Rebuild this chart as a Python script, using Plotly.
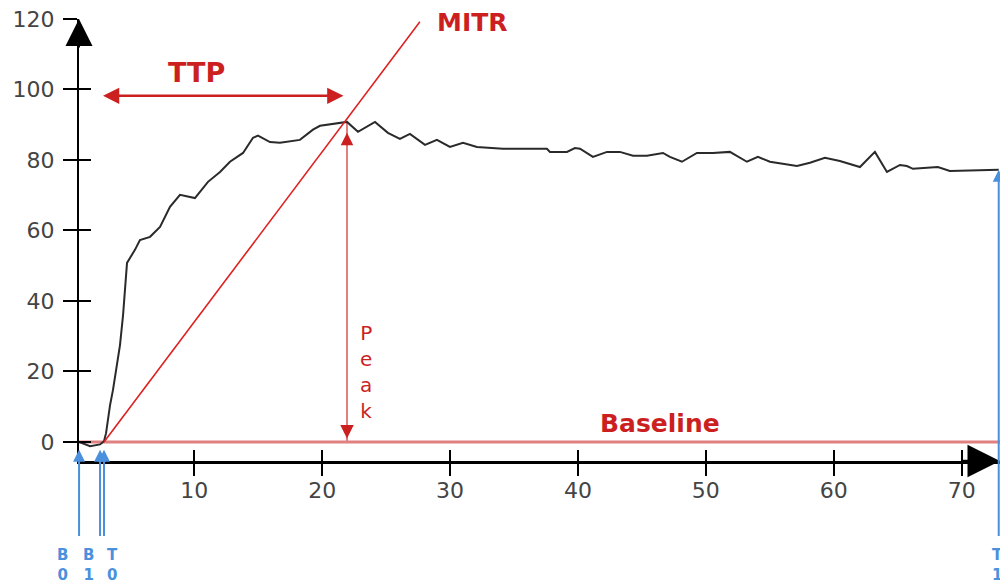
import plotly.graph_objects as go

# ---- data ----
time_s = [0.99, 1.85, 2.63, 2.94, 3.10, 3.41, 3.64, 3.96, 4.19, 4.43, 4.58, 4.74, 4.97, 5.36,
          5.75, 6.54, 7.32, 8.10, 8.88, 10.05, 11.07, 12.01, 12.79, 13.81, 14.59, 14.98,
          15.92, 16.70, 18.26, 19.28, 19.83, 20.84, 21.94, 22.80, 24.13, 25.14, 26.08,
          26.86, 28.04, 28.97, 29.99, 31.01, 32.10, 34.13, 37.57, 37.81, 39.14, 39.76,
          40.16, 41.17, 42.27, 43.28, 44.30, 45.39, 46.65, 47.19, 48.13, 49.30, 50.55,
          51.88, 53.21, 54.07, 55.01, 57.12, 58.14, 59.31, 60.48, 62.05, 63.22, 64.16,
          65.18, 65.72, 66.19, 68.14, 69.08, 72.90]
signal = [0.0, -1.2, -0.7, 0.2, 2.5, 10.4, 14.7, 21.8, 27.5, 36.0, 43.1, 50.8, 52.2, 54.5,
          57.3, 58.2, 61.0, 66.7, 70.1, 69.2, 73.8, 76.6, 79.5, 82.0, 86.3, 86.9,
          85.1, 84.9, 85.7, 88.6, 89.7, 90.3, 90.8, 88.0, 90.8, 87.7, 86.0,
          87.4, 84.3, 85.7, 83.7, 84.9, 83.7, 83.2, 83.2, 82.3, 82.3, 83.4,
          83.2, 80.9, 82.3, 82.3, 81.2, 81.2, 82.0, 80.9, 79.5, 82.0, 82.0,
          82.3, 79.5, 80.9, 79.5, 78.3, 79.2, 80.6, 79.7, 78.0, 82.3, 76.6,
          78.6, 78.3, 77.5, 78.0, 76.9, 77.2]

x_ticks = [10, 20, 30, 40, 50, 60, 70]
y_ticks = [0, 20, 40, 60, 80, 100, 120]

baseline_value = 0
marker_names = ["B0", "B1", "T0", "T1"]
marker_times = [0.99, 2.63, 2.94, 72.90]
marker_labels = ["<b>B</b><br><b>0</b>", "<b>B</b><br><b>1</b>", "<b>T</b><br><b>0</b>",
                 "<b>T</b><br><b>1</b>"]
marker_label_x = [-0.34, 1.69, 3.64, 72.80]

peak_time = 21.94
peak_value = 90.8
mitr_x = [2.94, 27.64]
mitr_y = [0.0, 119.2]
ttp_y = 98.2
ttp_start, ttp_end = 2.86, 21.78

X_RANGE = [0.985, 73.0]
Y_RANGE = [-5.4, 120]

RED = "#cc1f1f"
PINK = "#e08080"
BLUE = "#4a90dc"
TICKFONT = dict(family="DejaVu Sans", size=22, color="#444444")

fig = go.Figure()

# baseline
fig.add_trace(go.Scatter(x=[marker_times[0], X_RANGE[1]], y=[baseline_value, baseline_value],
                         mode="lines", line=dict(color=PINK, width=3), hoverinfo="skip",
                         showlegend=False))
# peak vertical line
fig.add_trace(go.Scatter(x=[peak_time, peak_time], y=[baseline_value, peak_value],
                         mode="lines", line=dict(color=PINK, width=2), hoverinfo="skip",
                         showlegend=False))
# signal curve
fig.add_trace(go.Scatter(x=time_s, y=signal, mode="lines",
                         line=dict(color="#2a2a2a", width=2), showlegend=False))
# MITR line
fig.add_trace(go.Scatter(x=mitr_x, y=mitr_y, mode="lines",
                         line=dict(color="#dd2020", width=1.6), showlegend=False))
# invisible trace for overlay axes (cross ticks)
fig.add_trace(go.Scatter(x=[None], y=[None], xaxis="x2", yaxis="y2", showlegend=False,
                         hoverinfo="skip"))

ann = []
# axis arrowheads
ann.append(dict(x=X_RANGE[0], y=Y_RANGE[1], xref="x", yref="y", ax=0, ay=30, text="",
                showarrow=True, arrowhead=2, arrowsize=2.7, arrowwidth=2, arrowcolor="black"))
ann.append(dict(x=X_RANGE[1], y=Y_RANGE[0], xref="x", yref="y", ax=-40, ay=0, text="",
                showarrow=True, arrowhead=2, arrowsize=2.6, arrowwidth=2.5, arrowcolor="black"))

# TTP double arrow
ann.append(dict(x=ttp_start, y=ttp_y, ax=ttp_end, ay=ttp_y, xref="x", yref="y",
                axref="x", ayref="y", text="", showarrow=True, arrowhead=2, startarrowhead=2,
                arrowside="end+start", arrowsize=1.3, startarrowsize=1.3, arrowwidth=2.5,
                arrowcolor=RED))
ann.append(dict(x=10.2, y=104.8, xref="x", yref="y", text="<b>TTP</b>", showarrow=False,
                font=dict(family="DejaVu Sans", size=27, color=RED)))
ann.append(dict(x=31.7, y=119.0, xref="x", yref="y", text="<b>MITR</b>", showarrow=False,
                font=dict(family="DejaVu Sans", size=25, color=RED)))
ann.append(dict(x=46.4, y=5.3, xref="x", yref="y", text="<b>Baseline</b>", showarrow=False,
                font=dict(family="DejaVu Sans", size=25, color=RED)))
ann.append(dict(x=23.4, y=19.8, xref="x", yref="y", text="P<br>e<br>a<br>k", showarrow=False,
                font=dict(family="DejaVu Sans", size=20, color=RED)))
# peak arrowheads
ann.append(dict(x=peak_time, y=peak_value - 3.1, xref="x", yref="y", ax=0, ay=14, text="",
                showarrow=True, arrowhead=2, arrowsize=1.25, arrowwidth=2, arrowcolor=RED))
ann.append(dict(x=peak_time, y=baseline_value + 1.0, xref="x", yref="y", ax=0, ay=-14, text="",
                showarrow=True, arrowhead=2, arrowsize=1.35, arrowwidth=2, arrowcolor=RED))

# blue time markers
span = X_RANGE[1] - X_RANGE[0]
for name, t, lab, lx in zip(marker_names, marker_times, marker_labels, marker_label_x):
    head_y = signal[-1] if name == "T1" else -2.2
    ann.append(dict(x=t, y=head_y, xref="x", yref="y", axref="x", ayref="y", ax=t, ay=-27.1,
                    text="", showarrow=True, arrowhead=2, arrowsize=1.2, arrowwidth=2,
                    arrowcolor=BLUE))
    ann.append(dict(x=(lx - X_RANGE[0]) / span, y=-0.236, xref="paper", yref="paper", text=lab,
                    showarrow=False, xanchor="center", yanchor="middle",
                    font=dict(family="DejaVu Sans", size=15, color=BLUE)))

# the page body adds an 8px offset; the figure is sized to fit inside the window
fig.update_layout(
    width=1000, height=577,
    margin=dict(l=71, r=8, t=11, b=124),
    plot_bgcolor="white", paper_bgcolor="white",
    showlegend=False,
    annotations=ann,
    xaxis=dict(range=X_RANGE, tickvals=x_ticks, ticks="outside", ticklen=12, tickwidth=2,
               tickcolor="black", showline=True, linecolor="black", linewidth=2.5,
               showgrid=False, zeroline=False, tickfont=TICKFONT, automargin=False,
               ticklabelstandoff=-4, ticklabeloverflow="allow"),
    yaxis=dict(range=Y_RANGE, tickvals=y_ticks, ticks="outside", ticklen=14, tickwidth=2,
               tickcolor="black", showline=True, linecolor="black", linewidth=2,
               showgrid=False, zeroline=False, tickfont=TICKFONT, automargin=False,
               ticklabelstandoff=4, ticklabeloverflow="allow"),
    xaxis2=dict(range=X_RANGE, tickvals=x_ticks, ticks="inside", ticklen=11, tickwidth=2,
                tickcolor="black", overlaying="x", anchor="y2", side="bottom",
                showticklabels=False, showline=False, showgrid=False, zeroline=False,
                automargin=False),
    yaxis2=dict(range=Y_RANGE, tickvals=y_ticks, ticks="inside", ticklen=12, tickwidth=2,
                tickcolor="black", overlaying="y", anchor="x2", side="left",
                showticklabels=False, showline=False, showgrid=False, zeroline=False,
                automargin=False),
)

fig.write_html("out.html")
